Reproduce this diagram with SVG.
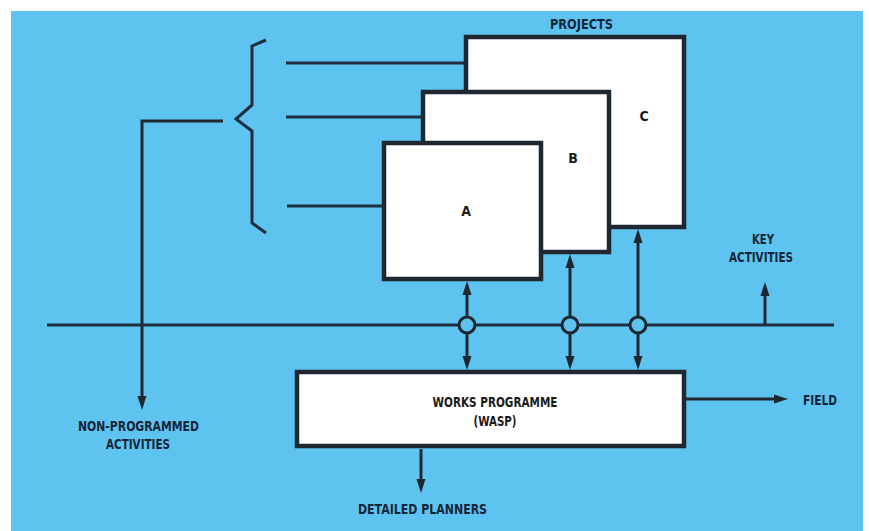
<svg xmlns="http://www.w3.org/2000/svg" width="869" height="531" viewBox="0 0 869 531">
  <style>
    .bg { fill: #5ec3ef; }
    .box { fill: #ffffff; stroke: #1f2830; stroke-width: 4.5; }
    .ln { fill: none; stroke: #1f2f40; stroke-width: 3; }
    .arr { fill: none; stroke: #1f2830; stroke-width: 3; marker-end: url(#head); }
    .hub { fill: #5ec3ef; stroke: #1f2830; stroke-width: 3; }
    .lbl { font-family: "Liberation Sans Narrow", "DejaVu Sans Condensed", "Liberation Sans", sans-serif; font-weight: bold; font-size: 14px; fill: #14263a; text-anchor: middle; }
    .in { fill: #1a1a1a; }
  </style>
  <defs>
    <marker id="head" markerUnits="userSpaceOnUse" markerWidth="14" markerHeight="10" refX="7" refY="5" orient="auto">
      <path d="M0,0.5 L14,5 L0,9.5 z" fill="#1f2830"/>
    </marker>
  </defs>

  <!-- page backdrop -->
  <rect x="0" y="0" width="869" height="531" fill="#ffffff"/>
  <rect class="bg" x="11" y="11" width="852" height="520"/>

  <!-- connectors -->
  <g id="connectors">
    <!-- feeds into the project boxes -->
    <line class="ln" x1="286" y1="63" x2="466" y2="63"/>
    <line class="ln" x1="286" y1="117" x2="423" y2="117"/>
    <line class="ln" x1="287" y1="206" x2="384" y2="206"/>
    <!-- grouping brace -->
    <polyline class="ln" stroke-width="2.2" points="266,40 252,46 252,105 236,119 252,131 252,223 266,233"/>
    <!-- non-programmed branch -->
    <polyline class="arr" points="223,121 142,121 142,403"/>
    <!-- main activity line -->
    <line class="ln" x1="47" y1="325" x2="834" y2="325"/>
    <line class="arr" x1="765" y1="325" x2="765" y2="289"/>
    <!-- project / programme links -->
    <line class="arr" x1="467" y1="317" x2="467" y2="288"/>
    <line class="arr" x1="467" y1="333" x2="467" y2="363"/>
    <line class="arr" x1="570" y1="317" x2="570" y2="261"/>
    <line class="arr" x1="570" y1="333" x2="570" y2="363"/>
    <line class="arr" x1="638" y1="317" x2="638" y2="236"/>
    <line class="arr" x1="638" y1="333" x2="638" y2="363"/>
    <circle class="hub" cx="467" cy="325" r="8"/>
    <circle class="hub" cx="570" cy="325" r="8"/>
    <circle class="hub" cx="638" cy="325" r="8"/>
    <!-- programme outputs -->
    <line class="arr" x1="421" y1="449" x2="421" y2="486"/>
    <line class="arr" x1="686" y1="399" x2="781" y2="399"/>
  </g>

  <!-- projects -->
  <g id="project-c">
    <rect class="box" x="466" y="37" width="218" height="190"/>
    <text class="lbl in" x="644" y="121">C</text>
  </g>
  <g id="project-b">
    <rect class="box" x="423" y="92" width="186" height="160"/>
    <text class="lbl in" x="573" y="163">B</text>
  </g>
  <g id="project-a">
    <rect class="box" x="384" y="143" width="157" height="136"/>
    <text class="lbl in" x="466" y="216">A</text>
  </g>

  <g id="works-programme">
    <rect class="box" x="297" y="372" width="387" height="74"/>
    <text class="lbl in" x="495" y="407" textLength="125" lengthAdjust="spacingAndGlyphs">WORKS PROGRAMME</text>
    <text class="lbl in" x="495" y="426" textLength="43" lengthAdjust="spacingAndGlyphs">(WASP)</text>
  </g>

  <!-- free labels -->
  <g id="label-projects">
    <text class="lbl" x="581.5" y="29" textLength="63" lengthAdjust="spacingAndGlyphs">PROJECTS</text>
  </g>
  <g id="label-key-activities">
    <text class="lbl" x="763" y="244" textLength="22" lengthAdjust="spacingAndGlyphs">KEY</text>
    <text class="lbl" x="761" y="262" textLength="64" lengthAdjust="spacingAndGlyphs">ACTIVITIES</text>
  </g>
  <g id="label-non-programmed">
    <text class="lbl" x="138.5" y="431" textLength="121" lengthAdjust="spacingAndGlyphs">NON-PROGRAMMED</text>
    <text class="lbl" x="138" y="449" textLength="64" lengthAdjust="spacingAndGlyphs">ACTIVITIES</text>
  </g>
  <g id="label-detailed-planners">
    <text class="lbl" x="422.5" y="514" textLength="129" lengthAdjust="spacingAndGlyphs">DETAILED PLANNERS</text>
  </g>
  <g id="label-field">
    <text class="lbl" x="820" y="405" textLength="34" lengthAdjust="spacingAndGlyphs">FIELD</text>
  </g>
</svg>
